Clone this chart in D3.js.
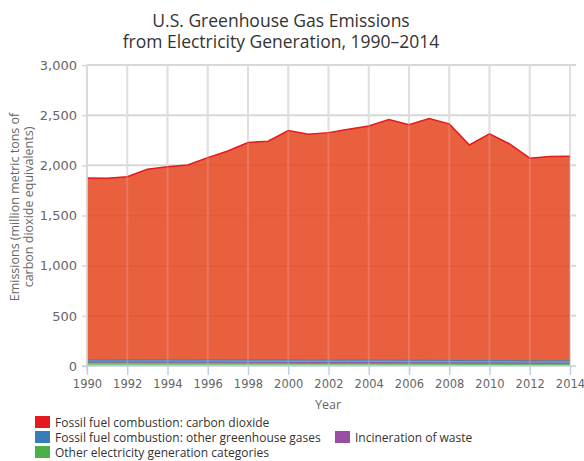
<!DOCTYPE html>
<html>
<head>
<meta charset="utf-8">
<script src="https://cdn.jsdelivr.net/npm/d3@7"></script>
<style>
  html, body { margin: 0; padding: 0; background: #fff; }
  svg { display: block; font-family: "Open Sans", "Noto Sans", sans-serif; }
</style>
</head>
<body>
<svg id="chart" width="584" height="461"></svg>
<script>
// Years on the x axis
const years = d3.range(1990, 2015);

// Emissions by source, million metric tons CO2 equivalent
const co2Fossil = [1814, 1812, 1827, 1901, 1927, 1945, 2016, 2083, 2168, 2180,
                   2286, 2252, 2267, 2301, 2334, 2398, 2348, 2409, 2357, 2150,
                   2259, 2160, 2020, 2035, 2039];
const otherGhgFossil = [20, 20, 20, 21, 21, 21, 22, 22, 23, 23,
                        24, 23, 23, 24, 24, 24, 24, 24, 24, 22,
                        23, 23, 22, 23, 24];
const wasteIncineration = [8, 8, 9, 9, 9, 9, 10, 10, 10, 10,
                           10, 10, 11, 11, 11, 11, 11, 11, 11, 11,
                           11, 11, 11, 11, 11];
const otherGeneration = [32, 31, 31, 30, 30, 29, 29, 28, 27, 27,
                         26, 25, 25, 24, 24, 23, 22, 22, 21, 20,
                         20, 19, 18, 18, 17];

// Series in legend order (first one sits on top of the stack)
const seriesNames = [
  "Fossil fuel combustion: carbon dioxide",
  "Fossil fuel combustion: other greenhouse gases",
  "Incineration of waste",
  "Other electricity generation categories"
];
const seriesValues = [co2Fossil, otherGhgFossil, wasteIncineration, otherGeneration];
const seriesColors = ["#e41a1c", "#377eb8", "#984ea3", "#4daf4a"];
const seriesFills = ["#e5441d", "#377eb8", "#984ea3", "#4daf4a"];

const yTicks = [0, 500, 1000, 1500, 2000, 2500, 3000];
const xTicks = d3.range(1990, 2015, 2);

const svg = d3.select("#chart");
const plotL = 87, plotR = 570, plotT = 65, plotB = 366;
const numFont = "'DejaVu Sans', sans-serif";

const x = d3.scaleLinear().domain([1990, 2014]).range([plotL, plotR]);
const y = d3.scaleLinear().domain([0, 3000]).range([plotB, plotT]);

// Stacked table: one row per year
const rows = years.map((yr, i) => {
  const r = { year: yr };
  seriesNames.forEach((n, k) => { r[n] = seriesValues[k][i]; });
  return r;
});
// bottom-first key order for the stack
const stackKeys = seriesNames.slice().reverse();
const stacked = d3.stack().keys(stackKeys)(rows);

// Title
const title = svg.append("text")
  .attr("x", 281).attr("text-anchor", "middle")
  .attr("fill", "#333").style("font-size", "17.5px");
title.append("tspan").attr("x", 281).attr("y", 27).text("U.S. Greenhouse Gas Emissions");
title.append("tspan").attr("x", 281).attr("y", 48).text("from Electricity Generation, 1990–2014");

// Horizontal gridlines (beneath the areas)
svg.append("g").selectAll("line").data(yTicks.slice(1)).join("line")
  .attr("x1", plotL).attr("x2", 576)
  .attr("y1", d => y(d)).attr("y2", d => y(d))
  .attr("stroke", "#d8d8d8").attr("stroke-width", 2);

// Vertical gridlines
svg.append("g").selectAll("line").data(xTicks).join("line")
  .attr("x1", d => x(d)).attr("x2", d => x(d))
  .attr("y1", plotT).attr("y2", plotB)
  .attr("stroke", "#d8d8d8").attr("stroke-width", 2);

// Areas
const area = d3.area()
  .x(d => x(d.data.year))
  .y0(d => y(d[0]))
  .y1(d => y(d[1]));
const topLine = d3.line()
  .x(d => x(d.data.year))
  .y(d => y(d[1]));

const layers = svg.append("g");
stacked.forEach(layer => {
  const k = seriesNames.indexOf(layer.key);
  layers.append("path").datum(layer)
    .attr("d", area)
    .attr("fill", seriesFills[k])
    .attr("fill-opacity", k === 0 ? 0.85 : 0.7);
});
stacked.forEach(layer => {
  const k = seriesNames.indexOf(layer.key);
  layers.append("path").datum(layer)
    .attr("d", topLine)
    .attr("fill", "none")
    .attr("stroke", seriesColors[k])
    .attr("stroke-width", k === 0 ? 1.5 : 1);
});

// Light vertical gridlines showing through the filled areas
svg.append("g").selectAll("line").data(xTicks).join("line")
  .attr("x1", d => x(d)).attr("x2", d => x(d))
  .attr("y1", plotT).attr("y2", plotB)
  .attr("stroke", "#fff").attr("stroke-opacity", 0.18).attr("stroke-width", 2);

// Y axis
const yAxis = svg.append("g").attr("transform", `translate(${plotL},0)`)
  .call(d3.axisLeft(y).tickValues(yTicks).tickSize(5).tickPadding(5)
    .tickFormat(d3.format(",")));
yAxis.select(".domain").attr("stroke", "#d8d8d8").attr("stroke-width", 1.5)
  .attr("d", `M0,${plotT}V${plotB + 5}`);
yAxis.selectAll(".tick line").attr("stroke", "#d8d8d8").attr("stroke-width", 1.5);
yAxis.selectAll(".tick text").attr("fill", "#666").style("font-size", "13px")
  .style("font-family", numFont);

// X axis
const xAxis = svg.append("g").attr("transform", `translate(0,${plotB})`)
  .call(d3.axisBottom(x).tickValues(xTicks).tickSize(9).tickPadding(5)
    .tickFormat(d3.format("d")));
xAxis.select(".domain").attr("stroke", "#c0d0e0").attr("stroke-width", 1.5)
  .attr("d", `M${plotL - 5},0H576`);
xAxis.selectAll(".tick line").attr("stroke", "#c0d0e0").attr("stroke-width", 1.5);
xAxis.selectAll(".tick text").attr("fill", "#666").style("font-size", "11.5px")
  .style("font-family", numFont);

// Axis titles
svg.append("text").attr("x", 328).attr("y", 409).attr("text-anchor", "middle")
  .attr("fill", "#666").style("font-size", "12.5px").text("Year");

const yTitle = svg.append("text")
  .attr("transform", "translate(0,207) rotate(-90)")
  .attr("text-anchor", "middle").attr("fill", "#666").style("font-size", "12.5px");
yTitle.append("tspan").attr("x", 0).attr("y", 19).text("Emissions (million metric tons of");
yTitle.append("tspan").attr("x", 0).attr("y", 33).text("carbon dioxide equivalents)");

// Legend
const legendItems = [
  { k: 0, x: 35, y: 416 },
  { k: 1, x: 35, y: 431 },
  { k: 2, x: 335, y: 431 },
  { k: 3, x: 35, y: 446 }
];
const legend = svg.append("g");
legendItems.forEach(it => {
  legend.append("rect").attr("x", it.x).attr("y", it.y)
    .attr("width", 15).attr("height", 12).attr("fill", seriesColors[it.k]);
  legend.append("text").attr("x", it.x + 20).attr("y", it.y + 11)
    .attr("fill", "#333").style("font-size", "12px").text(seriesNames[it.k]);
});
</script>
</body>
</html>
